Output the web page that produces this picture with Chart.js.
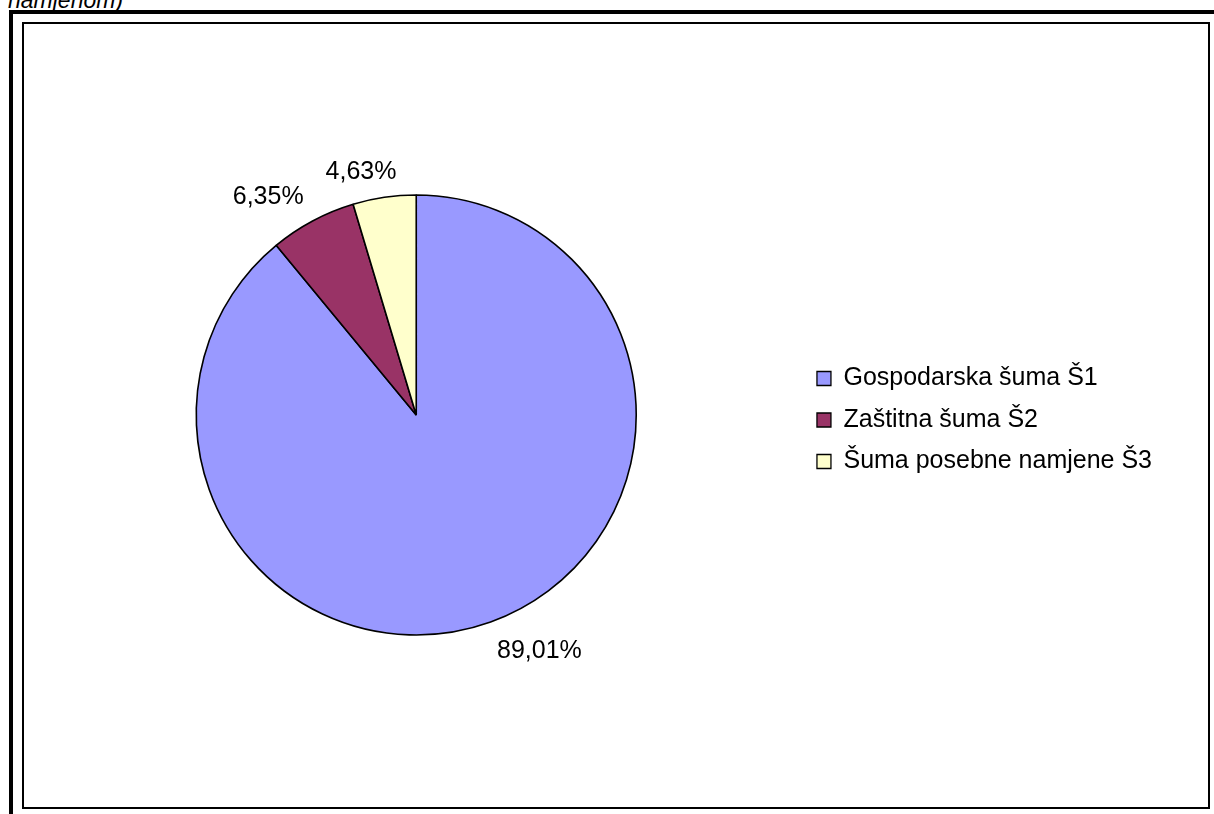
<!DOCTYPE html>
<html><head><meta charset="utf-8">
<script src="https://cdn.jsdelivr.net/npm/chart.js@4.4.1/dist/chart.umd.min.js"></script>
<style>
html,body{margin:0;padding:0;background:#fff;width:1214px;height:814px;overflow:hidden;}
#title{position:absolute;left:8px;top:-11px;font:italic 23px/23px "Liberation Sans",Arial,sans-serif;color:#000;white-space:nowrap;}
#outerTop{position:absolute;left:9px;top:10px;width:1205px;height:4px;background:#000;}
#outerLeft{position:absolute;left:9px;top:10px;width:4px;height:804px;background:#000;}
#inner{position:absolute;left:22px;top:22px;width:1184px;height:783px;border:2px solid #000;}
#wrap{position:absolute;left:0;top:0;width:1214px;height:814px;}
</style></head>
<body>
<div id="title">namjenom)</div>
<div id="outerTop"></div>
<div id="outerLeft"></div>
<div id="inner"></div>
<div id="wrap"><canvas id="c"></canvas></div>
<script>
const categories = ['Gospodarska šuma Š1', 'Zaštitna šuma Š2', 'Šuma posebne namjene Š3'];
const shares = [89.01, 6.35, 4.63];
const sliceColors = ['#9999FF', '#993366', '#FFFFCC'];

const FONT = '"Liberation Sans", Arial, sans-serif';
const FSIZE = 25;

const pctLabels = {
  id: 'pctLabels',
  afterDatasetsDraw(chart) {
    const ctx = chart.ctx;
    const meta = chart.getDatasetMeta(0);
    ctx.save();
    ctx.font = FSIZE + 'px ' + FONT;
    ctx.fillStyle = '#000';
    ctx.textBaseline = 'alphabetic';
    ctx.textAlign = 'left';
    const capH = FSIZE * 0.716;
    meta.data.forEach((arc, i) => {
      const p = arc.getProps(['x', 'y', 'startAngle', 'endAngle', 'outerRadius'], true);
      const mid = (p.startAngle + p.endAngle) / 2;
      const dx = Math.cos(mid), dy = Math.sin(mid);
      const dist = p.outerRadius + 19;
      const ax = p.x + dx * dist, ay = p.y + dy * dist;
      const txt = shares[i].toFixed(2).replace('.', ',') + '%';
      const w = ctx.measureText(txt).width;
      const f = Math.min(1, Math.max(0, 0.5 - dx * 2));
      const g = Math.min(1, Math.max(0, 0.5 - dy * 2));
      const left = ax - w * f;
      const top = ay - capH * g;
      ctx.fillText(txt, left, top + capH);
    });
    ctx.restore();
  }
};

new Chart(document.getElementById('c'), {
  type: 'pie',
  data: {
    labels: categories,
    datasets: [{
      data: shares,
      backgroundColor: sliceColors,
      borderColor: '#000',
      borderWidth: 1.6,
      hoverOffset: 0
    }]
  },
  options: {
    responsive: true,
    maintainAspectRatio: false,
    animation: false,
    radius: 220,
    layout: { padding: { left: 32, right: 52, top: 40, bottom: 24 } },
    plugins: {
      tooltip: { enabled: false },
      title: { display: false },
      legend: {
        position: 'right',
        align: 'center',
        title: { display: true, text: '', padding: 0, font: { size: 10, lineHeight: 1 } },
        labels: {
          boxWidth: 14,
          boxHeight: 14,
          padding: 16.5,
          color: '#000',
          font: { family: FONT, size: FSIZE },
          generateLabels(chart) {
            const items = Chart.controllers.pie.overrides.plugins.legend.labels.generateLabels(chart);
            items.forEach(it => { it.lineWidth = 1.3; });
            return items;
          }
        }
      }
    }
  },
  plugins: [pctLabels]
});
</script>
</body></html>
